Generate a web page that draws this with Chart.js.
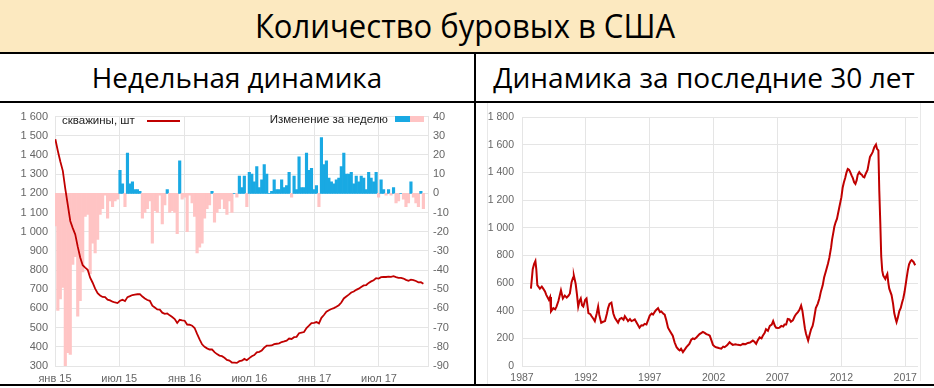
<!DOCTYPE html>
<html><head><meta charset="utf-8">
<script src="https://cdn.jsdelivr.net/npm/chart.js@4.4.1/dist/chart.umd.min.js"></script>
<style>
html,body{margin:0;padding:0;background:#fff;}
#root{position:relative;width:934px;height:388px;overflow:hidden;font-family:'Open Sans',sans-serif;background:#fff;}
.band{position:absolute;left:0;top:0;width:934px;height:53px;background:#FCE9C0;}
.ln{position:absolute;background:#000;}
.ttl{position:absolute;white-space:nowrap;color:#000;line-height:1;transform-origin:center center;}
.cv{position:absolute;}
.lg{position:absolute;font-family:'Liberation Sans',Arial,sans-serif;font-size:11.5px;color:#222;white-space:nowrap;line-height:12px;}
</style>
</head><body>
<div id="root">
  <div class="band"></div>
  <div class="ttl" id="t0" data-w="420" style="left:465px;top:26px;font-size:32px;">Количество буровых в США</div>
  <div class="ttl" id="t1" data-w="290" style="left:237px;top:77px;font-size:28px;">Недельная динамика</div>
  <div class="ttl" id="t2" data-w="421" style="left:704px;top:77px;font-size:28px;">Динамика за последние 30 лет</div>
  <div class="ln" style="left:0;top:52px;width:934px;height:2px;"></div>
  <div class="ln" style="left:0;top:101px;width:934px;height:2px;"></div>
  <div class="ln" style="left:474px;top:53px;width:2px;height:333px;"></div>
  <div class="ln" style="left:0;top:384px;width:934px;height:2px;"></div>
  <div style="position:absolute;left:487px;top:103px;width:1px;height:281px;background:#e8e8e8;"></div>
  <div style="position:absolute;left:920px;top:103px;width:1px;height:278px;background:#e8e8e8;"></div>
  <canvas id="c1" class="cv" width="474" height="281" style="left:0;top:103px;"></canvas>
  <canvas id="c2" class="cv" width="458" height="281" style="left:476px;top:103px;"></canvas>
  <div class="lg" style="left:62px;top:114px;">скважины, шт</div>
  <div style="position:absolute;left:147px;top:120px;width:33px;height:2px;background:#c00000;"></div>
  <div class="lg" style="right:546px;top:113px;text-align:right;">Изменение за неделю</div>
  <div style="position:absolute;left:395px;top:116px;width:15px;height:6px;background:#19a9e3;"></div>
  <div style="position:absolute;left:410px;top:116px;width:14px;height:6px;background:#ffc4c4;"></div>
</div>
<script>
// ---- Weekly US oil rig count (Baker Hughes), first week ends Jan 2, 2015 ----
const weeklyFirstDay = 1; // days since Jan 1, 2015
const rigsWeekly = [
  1482,1421,1366,1317,1223,1140,1056,1019,986,922,866,825,813,802,760,734,703,679,668,660,659,646,642,635,631,628,
  640,645,638,659,664,670,672,674,675,662,652,644,640,614,605,595,594,578,572,574,564,555,545,524,541,538,536,
  516,515,510,498,467,439,413,400,392,386,387,372,362,354,351,343,332,328,318,318,316,325,328,337,330,341,
  351,357,371,374,381,396,406,406,407,414,416,418,425,428,432,443,441,450,452,471,474,477,498,510,523,525,
  529,522,551,566,583,591,597,602,609,617,631,652,662,672,683,688,697,703,712,720,722,733,741,747,758,756,
  763,765,764,766,765,768,763,759,759,756,749,744,750,748,743,736,737,729
];
const rigsChange = [
  -17,-61,-55,-49,-94,-83,-84,-37,-33,-64,-56,-41,-12,-11,-42,-26,-31,-24,-11,-8,-1,-13,-4,-7,-4,-3,
  12,5,-7,21,5,6,2,2,1,-13,-10,-8,-4,-26,-9,-10,-1,-16,-6,2,-10,-9,-10,-21,17,-3,-2,
  -20,-1,-5,-12,-31,-28,-26,-13,-8,-6,1,-15,-10,-8,-3,-8,-11,-4,-10,0,-2,9,3,9,-7,11,
  10,6,14,3,7,15,10,0,1,7,2,2,7,3,4,11,-2,9,2,19,3,3,21,12,13,2,
  4,-7,29,15,17,8,6,5,7,8,14,21,10,10,11,5,9,6,9,8,2,11,8,6,11,-2,
  7,2,-1,2,-1,3,-5,-4,0,-3,-7,-5,6,-2,-5,-7,1,-8
];
const weeklyTickDays = [0, 181, 365, 547, 731, 912];
const weeklyTickLabels = ['янв 15','июл 15','янв 16','июл 16','янв 17','июл 17'];

// ---- 30-year history (sampled) ----
const longYears = [
  1987.70,1987.84,1987.95,1988.05,1988.12,1988.20,1988.40,1988.55,1988.66,1988.80,1988.90,1989.10,1989.20,1989.27,1989.45,1989.60,1989.70,1989.85,
  1990.05,1990.20,1990.35,1990.50,1990.65,1990.75,1990.88,1991.00,1991.06,1991.20,1991.30,1991.40,1991.50,1991.60,1991.70,1991.80,1991.95,
  1992.05,1992.20,1992.35,1992.45,1992.60,1992.70,1992.85,1992.96,1993.05,1993.20,1993.35,1993.50,1993.65,1993.74,1993.85,
  1994.00,1994.15,1994.27,1994.40,1994.52,1994.65,1994.80,1994.95,1995.05,1995.20,1995.30,1995.45,1995.57,1995.70,1995.83,
  1996.00,1996.20,1996.35,1996.48,1996.60,1996.74,1996.90,1997.00,1997.15,1997.26,1997.45,1997.65,1997.80,1997.90,
  1998.05,1998.17,1998.30,1998.43,1998.60,1998.80,1998.95,1999.10,1999.25,1999.34,1999.45,1999.60,1999.75,1999.87,
  2000.10,2000.25,2000.38,2000.50,2000.65,2000.90,2001.05,2001.16,2001.30,2001.43,2001.60,2001.70,2001.85,2001.95,
  2002.10,2002.20,2002.40,2002.60,2002.75,2002.86,2003.05,2003.25,2003.40,2003.50,2003.70,2003.90,
  2004.10,2004.30,2004.50,2004.68,2004.85,2005.07,2005.20,2005.33,2005.45,2005.60,2005.75,2005.85,
  2006.00,2006.10,2006.25,2006.40,2006.55,2006.66,2006.80,2006.90,2007.05,2007.16,2007.30,2007.45,2007.55,2007.68,2007.80,2007.94,
  2008.05,2008.20,2008.35,2008.46,2008.60,2008.72,2008.85,2008.95,2009.03,2009.15,2009.24,2009.40,2009.50,2009.63,2009.75,2009.83,
  2010.00,2010.15,2010.28,2010.40,2010.54,2010.65,2010.80,2010.95,2011.06,2011.20,2011.27,2011.40,2011.45,2011.55,2011.66,2011.84,
  2012.00,2012.10,2012.20,2012.30,2012.40,2012.50,2012.60,2012.68,2012.80,2012.90,2013.00,2013.10,2013.20,2013.28,2013.40,2013.50,
  2013.60,2013.70,2013.80,2013.90,2014.05,2014.15,2014.24,2014.35,2014.45,2014.58,2014.71,2014.79,2014.90,2014.97,
  2015.05,2015.12,2015.20,2015.28,2015.44,2015.52,2015.60,2015.68,2015.75,2015.93,2016.05,2016.14,2016.25,2016.32,2016.42,
  2016.53,2016.65,2016.74,2016.85,2016.95,2017.10,2017.20,2017.30,2017.42,2017.50,2017.65,2017.78
];
const longRigs = [
  560,701,740,760,700,586,560,575,560,540,515,480,500,395,419,410,430,470,
  548,489,510,495,510,525,607,640,654,595,520,430,470,489,440,430,480,
  489,383,375,360,340,325,380,430,370,313,320,325,380,419,450,
  459,380,348,330,313,340,348,335,360,340,325,340,325,330,337,
  310,277,295,294,305,301,340,365,380,372,400,419,390,395,
  380,372,330,277,250,219,170,136,120,113,125,101,120,136,
  160,190,200,195,207,231,240,247,240,231,225,219,180,153,
  140,136,130,125,140,136,150,172,160,153,158,153,
  150,160,158,167,170,184,175,160,185,207,200,219,
  240,266,255,290,300,325,290,277,275,278,290,285,301,301,340,337,
  320,330,360,376,390,407,438,400,348,270,231,184,220,266,290,325,
  419,450,489,540,584,640,690,740,784,860,913,980,1008,1040,1066,1149,
  1220,1290,1330,1360,1400,1426,1420,1407,1380,1360,1330,1318,1345,1384,1403,1390,
  1384,1370,1365,1390,1419,1470,1513,1530,1548,1584,1603,1572,1560,1266,
  1031,796,690,654,630,650,666,600,560,513,450,383,340,318,350,
  395,420,454,490,537,630,690,736,760,767,753,729
];
const longTickYears = [1987,1992,1997,2002,2007,2012,2017];

// ---- title fitting ----
document.querySelectorAll('.ttl').forEach(el=>{
  const w = el.offsetWidth, target = +el.dataset.w;
  el.style.transform = 'translate(-50%,-50%) scaleX(' + (target/w) + ')';
});

function fmtNum(v){
  const a = Math.abs(v);
  if (a >= 1000) return (v<0?'-':'') + Math.floor(a/1000) + ' ' + String(a%1000).padStart(3,'0');
  return String(v);
}
const GRID = '#e5e5e5';
const TICK = '#666666';
const FONT = "'Liberation Sans', Arial, sans-serif";

const linePts = rigsWeekly.map((v,i)=>({x: weeklyFirstDay + 7*i, y: v}));
const barPts = rigsChange.map((v,i)=>({x: weeklyFirstDay + 7*i, y: v}));

new Chart(document.getElementById('c1'), {
  type: 'line',
  data: { datasets: [
    { type:'line', data: linePts, yAxisID:'y', borderColor:'#c00000', borderWidth:1.8, pointRadius:0, tension:0, order:0 },
    { type:'bar', data: barPts, yAxisID:'y1', backgroundColor: rigsChange.map(v=>v>=0?'#19a9e3':'#ffc4c4'),
      borderWidth:0, barPercentage:1, categoryPercentage:1, order:1 }
  ]},
  options: {
    responsive:false, animation:false, devicePixelRatio:1,
    layout:{ padding:{ top:8, left:0, right:0, bottom:0 } },
    plugins:{ legend:{display:false}, tooltip:{enabled:false} },
    scales:{
      x:{ type:'linear', min:0, max:1050, offset:false,
        afterBuildTicks: s => { s.ticks = weeklyTickDays.map(v=>({value:v})); },
        ticks:{ callback: v => weeklyTickLabels[weeklyTickDays.indexOf(v)], color:TICK, font:{family:FONT,size:11}, padding:6, maxRotation:0, autoSkip:false },
        grid:{ color:GRID, drawTicks:false, offset:false }, border:{ display:false },
        afterFit: s => { s.height = 18; } },
      y:{ position:'left', min:300, max:1600,
        ticks:{ stepSize:100, callback: v => fmtNum(v), color:TICK, font:{family:FONT,size:11}, padding:7 },
        grid:{ color:GRID, drawTicks:false }, border:{ display:true, color:GRID },
        afterFit: s => { s.width = 55; } },
      y1:{ position:'right', min:-90, max:40,
        ticks:{ stepSize:10, callback: v => String(v), color:TICK, font:{family:FONT,size:11}, padding:5 },
        grid:{ display:false, drawTicks:false }, border:{ display:true, color:GRID },
        afterFit: s => { s.width = 46; } }
    }
  }
});

const longPts = longYears.map((y,i)=>({x:y, y:longRigs[i]}));
new Chart(document.getElementById('c2'), {
  type: 'line',
  data: { datasets: [
    { data: longPts, borderColor:'#c00000', borderWidth:2, pointRadius:0, tension:0 }
  ]},
  options: {
    responsive:false, animation:false, devicePixelRatio:1,
    layout:{ padding:{ top:8, left:0, right:16, bottom:0 } },
    plugins:{ legend:{display:false}, tooltip:{enabled:false} },
    scales:{
      x:{ type:'linear', min:1987, max:2018, offset:false,
        afterBuildTicks: s => { s.ticks = longTickYears.map(v=>({value:v})); },
        ticks:{ callback: v => String(v), color:TICK, font:{family:FONT,size:10.5}, padding:6, maxRotation:0, autoSkip:false },
        grid:{ color:GRID, drawTicks:false }, border:{ display:false },
        afterFit: s => { s.height = 18; } },
      y:{ min:0, max:1800,
        ticks:{ stepSize:200, callback: v => fmtNum(v), color:TICK, font:{family:FONT,size:10.5}, padding:8 },
        grid:{ color:GRID, drawTicks:false }, border:{ display:false },
        afterFit: s => { s.width = 46; } }
    }
  }
});
</script>
</body></html>
